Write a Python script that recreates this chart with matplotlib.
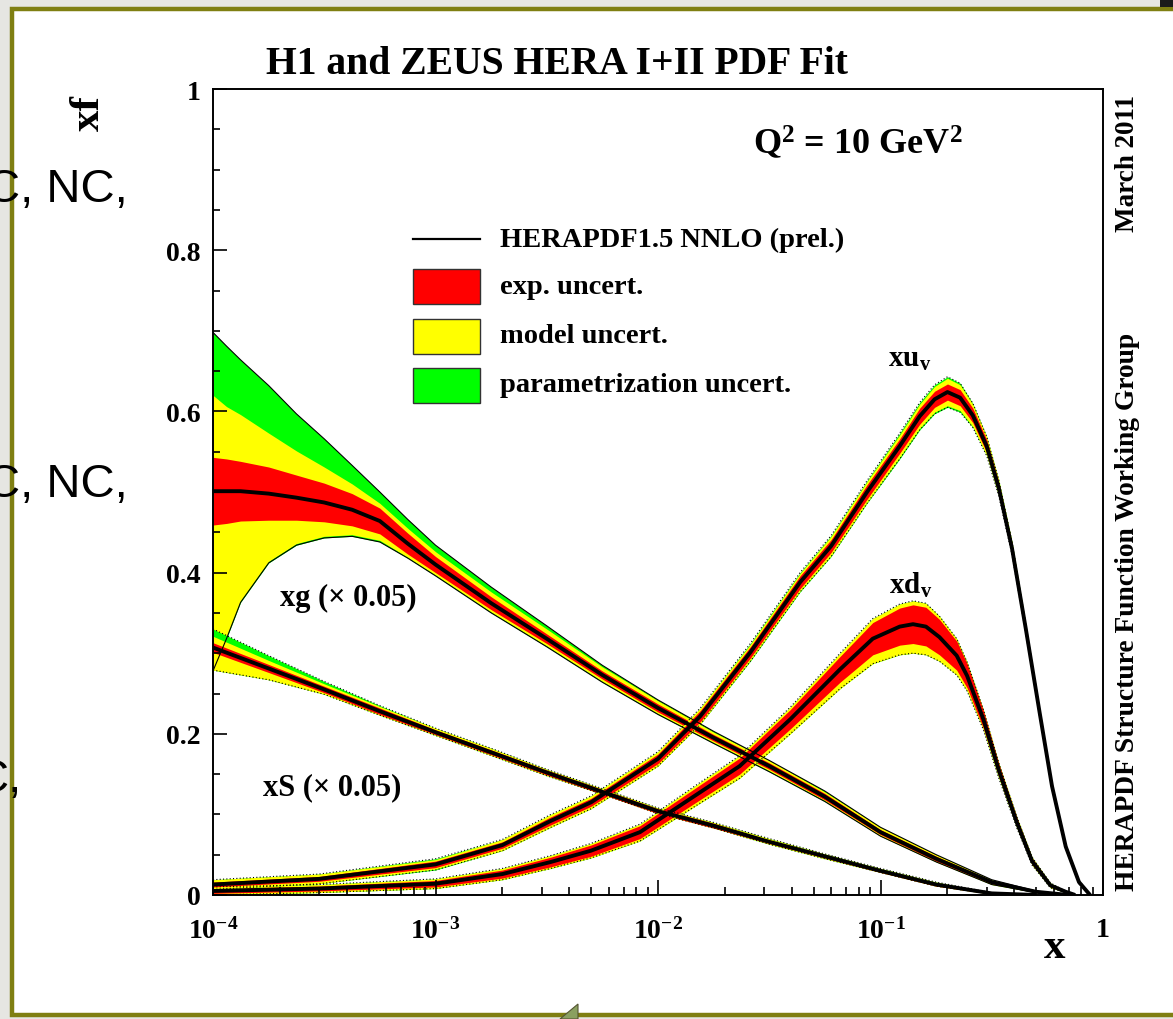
import matplotlib
matplotlib.use('Agg')
import numpy as np
import matplotlib.pyplot as plt
from matplotlib.patches import Rectangle, Polygon
from matplotlib.lines import Line2D
from matplotlib.ticker import FixedLocator, MultipleLocator, LogLocator, NullFormatter

plt.rcParams['font.family'] = ['Liberation Serif', 'DejaVu Serif']
plt.rcParams['font.weight'] = 'bold'
plt.rcParams['mathtext.fontset'] = 'custom'
plt.rcParams['mathtext.rm'] = 'Liberation Serif:bold'
plt.rcParams['mathtext.bf'] = 'Liberation Serif:bold'
plt.rcParams['mathtext.it'] = 'Liberation Serif:bold'

# ---- data (Q^2 = 10 GeV^2) ----
# gluon xg (x 0.05)
x_g = [1e-4, 1.15e-4, 1.33e-4, 1.78e-4, 2.37e-4, 3.16e-4, 4.22e-4, 5.62e-4, 7.5e-4, 1e-3,
       1.78e-3, 3.16e-3, 5.62e-3, 1e-2, 1.78e-2, 3.16e-2, 5.62e-2, 0.1, 0.178, 0.316, 0.5, 0.7]
g_cen = [0.501, 0.501, 0.501, 0.498, 0.493, 0.487, 0.478, 0.464, 0.436, 0.410,
         0.362, 0.318, 0.273, 0.232, 0.195, 0.160, 0.122, 0.078, 0.045, 0.016, 0.004, 0.0]
g_exp = [0.042, 0.040, 0.037, 0.033, 0.028, 0.024, 0.020, 0.016, 0.013, 0.010,
         0.008, 0.006, 0.005, 0.005, 0.004, 0.004, 0.004, 0.003, 0.003, 0.002, 0.001, 0.0]
g_mod_up = [0.119, 0.105, 0.095, 0.075, 0.058, 0.044, 0.032, 0.022, 0.019, 0.016,
            0.014, 0.012, 0.010, 0.009, 0.007, 0.007, 0.006, 0.006, 0.005, 0.003, 0.001, 0.0]
g_par_up = [0.197, 0.180, 0.163, 0.134, 0.104, 0.079, 0.055, 0.036, 0.030, 0.024,
            0.020, 0.016, 0.012, 0.010, 0.008, 0.007, 0.007, 0.006, 0.005, 0.003, 0.001, 0.0]
g_mod_dn = [0.221, 0.181, 0.136, 0.084, 0.057, 0.042, 0.031, 0.024, 0.017, 0.013,
            0.011, 0.009, 0.008, 0.007, 0.006, 0.006, 0.005, 0.005, 0.004, 0.003, 0.001, 0.0]
g_par_dn = [0.223, 0.183, 0.138, 0.086, 0.059, 0.044, 0.033, 0.026, 0.018, 0.014,
            0.012, 0.010, 0.009, 0.008, 0.007, 0.007, 0.006, 0.005, 0.004, 0.003, 0.001, 0.0]

# sea xS (x 0.05)
x_s = [1e-4, 1.78e-4, 3.16e-4, 5.62e-4, 1e-3, 1.78e-3, 3.16e-3, 5.62e-3,
       1e-2, 1.78e-2, 3.16e-2, 5.62e-2, 0.1, 0.178, 0.316, 0.5]
s_cen = [0.307, 0.281, 0.255, 0.228, 0.202, 0.177, 0.152, 0.128,
         0.104, 0.086, 0.066, 0.048, 0.030, 0.013, 0.002, 0.0]
s_exp = [0.006, 0.005, 0.004, 0.004, 0.003, 0.003, 0.003, 0.003,
         0.003, 0.003, 0.002, 0.002, 0.002, 0.002, 0.001, 0.0]
s_mod_up = [0.014, 0.010, 0.007, 0.006, 0.005, 0.005, 0.004, 0.004,
            0.004, 0.004, 0.004, 0.003, 0.003, 0.003, 0.001, 0.0]
s_par_up = [0.023, 0.016, 0.010, 0.007, 0.005, 0.005, 0.004, 0.004,
            0.004, 0.004, 0.004, 0.003, 0.003, 0.003, 0.001, 0.0]
s_mod_dn = [0.028, 0.014, 0.006, 0.005, 0.004, 0.004, 0.004, 0.003,
            0.003, 0.003, 0.003, 0.003, 0.002, 0.002, 0.001, 0.0]
s_par_dn = s_mod_dn

# valence xu_v
x_uv = [1e-4, 3e-4, 1e-3, 2e-3, 3.3e-3, 5e-3, 0.01, 0.0155, 0.026, 0.0435, 0.06, 0.087, 0.122, 0.15,
        0.175, 0.2, 0.228, 0.26, 0.30, 0.34, 0.39, 0.45, 0.52, 0.59, 0.68, 0.78, 0.85, 0.875]
uv_cen = [0.013, 0.020, 0.038, 0.062, 0.092, 0.115, 0.169, 0.222, 0.301, 0.388, 0.433, 0.500, 0.557, 0.594,
          0.615, 0.624, 0.617, 0.595, 0.557, 0.505, 0.430, 0.330, 0.225, 0.135, 0.060, 0.016, 0.004, 0.0]
uv_exp = [0.003, 0.003, 0.004, 0.004, 0.005, 0.005, 0.006, 0.007, 0.007, 0.008, 0.008, 0.009, 0.009, 0.010,
          0.010, 0.010, 0.010, 0.009, 0.008, 0.007, 0.006, 0.005, 0.004, 0.003, 0.003, 0.002, 0.001, 0.0]
uv_mod_up = [0.006, 0.006, 0.006, 0.007, 0.008, 0.008, 0.009, 0.010, 0.010, 0.011, 0.012, 0.013, 0.014, 0.015,
             0.016, 0.017, 0.016, 0.014, 0.012, 0.010, 0.008, 0.006, 0.005, 0.004, 0.003, 0.002, 0.001, 0.0]
uv_par_up = [0.006, 0.006, 0.007, 0.007, 0.008, 0.008, 0.009, 0.010, 0.011, 0.012, 0.013, 0.014, 0.016, 0.017,
             0.018, 0.019, 0.018, 0.015, 0.012, 0.010, 0.008, 0.006, 0.005, 0.004, 0.003, 0.002, 0.001, 0.0]
uv_mod_dn = uv_mod_up
uv_par_dn = uv_par_up

# valence xd_v
x_dv = [1e-4, 3e-4, 1e-3, 2e-3, 3.3e-3, 5e-3, 8.3e-3, 0.0139, 0.0233, 0.0393, 0.0658, 0.0923, 0.122,
        0.14, 0.16, 0.184, 0.22, 0.245, 0.29, 0.34, 0.41, 0.48, 0.58, 0.68, 0.75]
dv_cen = [0.005, 0.008, 0.014, 0.026, 0.041, 0.055, 0.078, 0.119, 0.160, 0.218, 0.280, 0.318, 0.333,
          0.336, 0.333, 0.320, 0.297, 0.272, 0.218, 0.155, 0.090, 0.042, 0.012, 0.004, 0.0]
dv_exp = [0.003, 0.003, 0.004, 0.005, 0.006, 0.007, 0.008, 0.009, 0.010, 0.012, 0.016, 0.020, 0.023,
          0.024, 0.024, 0.022, 0.018, 0.015, 0.011, 0.008, 0.006, 0.004, 0.002, 0.001, 0.0]
dv_mod_up = [0.005, 0.005, 0.006, 0.007, 0.008, 0.009, 0.010, 0.012, 0.013, 0.015, 0.020, 0.025, 0.028,
             0.029, 0.029, 0.026, 0.021, 0.017, 0.012, 0.009, 0.007, 0.005, 0.003, 0.001, 0.0]
dv_mod_dn = [0.005, 0.005, 0.006, 0.007, 0.008, 0.009, 0.011, 0.013, 0.015, 0.018, 0.024, 0.031, 0.035,
             0.036, 0.035, 0.030, 0.024, 0.019, 0.013, 0.010, 0.007, 0.005, 0.003, 0.001, 0.0]
dv_par_up = dv_mod_up
dv_par_dn = dv_mod_dn

legend_labels = ['HERAPDF1.5 NNLO (prel.)', 'exp. uncert.', 'model uncert.', 'parametrization uncert.']
band_colors = ['#ff0000', '#ffff00', '#00ff00']

W, H = 1173, 1020
fig = plt.figure(figsize=(W / 100, H / 100), dpi=100)
fig.patch.set_facecolor('#e6e6e2')


def fx(px):
    return px / W


def fy(py):
    return 1 - py / H


# slide panel
fig.add_artist(Rectangle((fx(12), fy(1016)), fx(1200) - fx(12), fy(10) - fy(1016),
                         transform=fig.transFigure, facecolor='white', edgecolor='#7f7f12', lw=3.2, zorder=0))
fig.add_artist(Rectangle((fx(1160), fy(8)), fx(20), fy(0) - fy(8), transform=fig.transFigure,
                         facecolor='#1a1a1a', edgecolor='none', zorder=0))
fig.add_artist(Polygon([(fx(560), fy(1020)), (fx(578), fy(1005)), (fx(578), fy(1020))],
                       closed=True, transform=fig.transFigure, facecolor='#8aa060', edgecolor='#555533',
                       lw=0.8, zorder=1))

ax = fig.add_axes([fx(213), fy(896), fx(1103) - fx(213), fy(90) - fy(896)])
ax.set_xscale('log')
ax.set_xlim(1e-4, 1)
ax.set_ylim(0, 1)


def draw_pdf(x, cen, exp, mod_up, mod_dn, par_up, par_dn, edge_ls):
    x = np.array(x)
    cen = np.array(cen)
    ax.fill_between(x, cen - np.array(par_dn), cen + np.array(par_up), color=band_colors[2], lw=0)
    ax.fill_between(x, cen - np.array(mod_dn), cen + np.array(mod_up), color=band_colors[1], lw=0)
    ax.fill_between(x, cen - np.array(exp), cen + np.array(exp), color=band_colors[0], lw=0)
    ax.plot(x, cen + np.array(par_up), color='black', lw=0.8, ls=edge_ls)
    ax.plot(x, cen - np.array(par_dn), color='black', lw=0.8, ls=edge_ls)
    ax.plot(x, cen, color='black', lw=2.8, solid_capstyle='butt')


draw_pdf(x_g, g_cen, g_exp, g_mod_up, g_mod_dn, g_par_up, g_par_dn, '-')
draw_pdf(x_s, s_cen, s_exp, s_mod_up, s_mod_dn, s_par_up, s_par_dn, (0, (1, 2)))
draw_pdf(x_dv, dv_cen, dv_exp, dv_mod_up, dv_mod_dn, dv_par_up, dv_par_dn, (0, (1, 2)))
draw_pdf(x_uv, uv_cen, uv_exp, uv_mod_up, uv_mod_dn, uv_par_up, uv_par_dn, (0, (1, 2)))

# axes styling
for side in ['top', 'right', 'bottom', 'left']:
    ax.spines[side].set_linewidth(1.4)
ax.xaxis.set_major_locator(FixedLocator([1e-4, 1e-3, 1e-2, 1e-1, 1]))
ax.set_xticklabels([r'$10^{-4}$', r'$10^{-3}$', r'$10^{-2}$', r'$10^{-1}$', '1'])
ax.xaxis.set_minor_locator(LogLocator(base=10, subs=np.arange(2, 10)))
ax.xaxis.set_minor_formatter(NullFormatter())
ax.yaxis.set_major_locator(FixedLocator([0, 0.2, 0.4, 0.6, 0.8, 1.0]))
ax.set_yticklabels(['0', '0.2', '0.4', '0.6', '0.8', '1'])
ax.yaxis.set_minor_locator(MultipleLocator(0.05))
ax.tick_params(which='both', direction='in', top=False, right=False, width=1.2, labelsize=20)
ax.tick_params(axis='x', which='major', length=11, pad=16)
ax.tick_params(axis='x', which='minor', length=6)
ax.tick_params(axis='y', which='major', length=10, pad=9)
ax.tick_params(axis='y', which='minor', length=5)

ax.text(-0.140, 0.971, 'xf', transform=ax.transAxes, rotation=90, fontsize=31,
        ha='center', va='center')
ax.text(0.946, -0.0645, 'x', transform=ax.transAxes, fontsize=31, ha='center', va='center')

# labels inside the plot
fig.text(fx(348), fy(598), 'xg (× 0.05)', fontsize=22, ha='center', va='center')
fig.text(fx(332), fy(788), 'xS (× 0.05)', fontsize=22, ha='center', va='center')
fig.text(fx(910), fy(360), r'xu$_{\mathregular{v}}$', fontsize=21, ha='center', va='center')
fig.text(fx(911), fy(585), r'xd$_{\mathregular{v}}$', fontsize=21, ha='center', va='center')
fig.text(fx(858), fy(143), r'Q$^{2}$ = 10 GeV$^{2}$', fontsize=26, ha='center', va='center')

# title and side notes
fig.text(fx(557), fy(65), 'H1 and ZEUS HERA I+II PDF Fit', fontsize=28.5, ha='center', va='center')
fig.text(fx(1128), fy(164), 'March 2011', fontsize=19.5, rotation=90, ha='center', va='center')
fig.text(fx(1128), fy(612), 'HERAPDF Structure Function Working Group', fontsize=19.8, rotation=90,
         ha='center', va='center')

# legend drawn by hand, ROOT style
fig.add_artist(Line2D([fx(413), fx(480)], [fy(240), fy(240)], transform=fig.transFigure,
                      color='black', lw=1.6))
box_tops = [270, 320, 369]
for top, col in zip(box_tops, band_colors):
    fig.add_artist(Rectangle((fx(413), fy(top + 35)), fx(480) - fx(413), fy(top) - fy(top + 35),
                             transform=fig.transFigure, facecolor=col, edgecolor='#333333', lw=1.0))
for yy, lab in zip([240, 288, 337, 386], legend_labels):
    fig.text(fx(500), fy(yy), lab, fontsize=20.5, ha='left', va='center')

# slide text peeking out on the left
for yy, lab in zip([190, 485, 780], ['C, NC,', 'C, NC,', 'C,']):
    x_right = 128 if lab != 'C,' else 22
    fig.text(fx(x_right), fy(yy), lab, fontsize=34, ha='right', va='center',
             family=['Liberation Sans', 'DejaVu Sans'], weight='normal')

fig.savefig('out.png', dpi=100, facecolor=fig.get_facecolor())
